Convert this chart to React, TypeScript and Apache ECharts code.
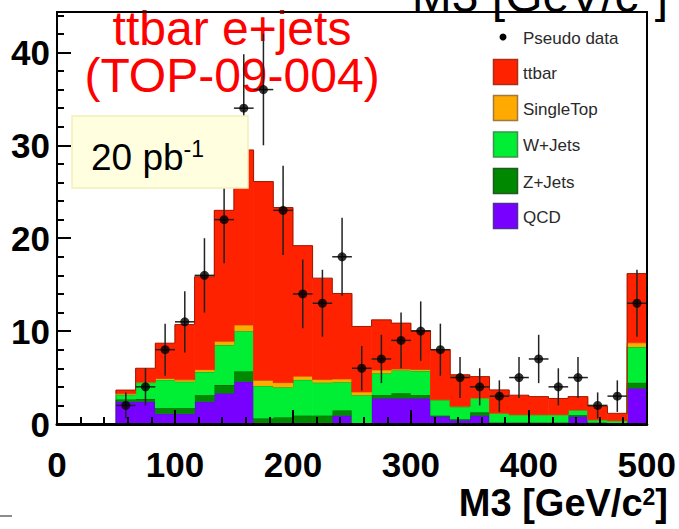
import React, { useEffect, useRef } from "react";
import * as echarts from "echarts";

// ---- data (27 filled bins of width 500/30 GeV starting at 50 GeV) ----
const X_MIN = 0;
const X_MAX = 500;
const N_BINS = 30;
const FIRST_BIN = 3;
const BIN_WIDTH = (X_MAX - X_MIN) / N_BINS;

const qcd = [2.4, 2.4, 1.1, 1.1, 2.4, 3.3, 4.55, 0, 0, 0, 0, 0.9, 0, 2.76, 2.76, 2.76, 0.8, 0.4, 0.9, 0, 0, 0, 0, 0.8, 0, 0, 3.84];
const zJets = [0.25, 0.3, 0.6, 0.6, 0.7, 0.9, 1.1, 0.6, 0.7, 0.9, 0.9, 0.55, 0.1, 0.35, 0.55, 0.35, 0.1, 0.1, 0.35, 0.15, 0.15, 0.15, 0.15, 0.15, 0.15, 0.1, 0.6];
const wJets = [0.5, 1.75, 3.05, 2.85, 2.5, 4.3, 4.35, 3.5, 3.25, 3.85, 3.55, 3.05, 3.0, 2.35, 2.45, 2.6, 1.7, 1.35, 1.5, 1.0, 0.85, 0.85, 0.85, 0.55, 0.3, 0.25, 3.85];
const singleTop = [0.1, 0.05, 0.15, 0.2, 0.25, 0.4, 0.65, 0.6, 0.5, 0.4, 0.35, 0.35, 0.35, 0.35, 0.15, 0.15, 0.0, 0.05, 0.05, 0.02, 0.0, 0.0, 0.0, 0.0, 0.0, 0.0, 0.45];
const ttbar = [0.4, 1.5, 3.8, 5.95, 10.0, 14.1, 18.85, 21.4, 18.85, 14.05, 10.9, 9.2, 7.05, 5.4, 4.95, 4.2, 5.4, 3.4, 2.3, 2.5, 2.1, 1.95, 1.75, 1.45, 1.45, 0.8, 7.45];
const pseudoData = [2, 4, 8, 11, 16, 22, 34, 36, 23, 14, 13, 18, 6, 7, 9, 10, 8, 5, 4, 3, 5, 7, 4, 5, 2, 3, 13];
const pseudoErr = [1.4, 2, 2.8, 3.3, 4, 4.7, 5.8, 6, 4.8, 3.7, 3.6, 4.2, 2.4, 2.6, 3, 3.2, 2.8, 2.2, 2, 1.7, 2.2, 2.6, 2, 2.2, 1.4, 1.7, 3.6];

const Y_MAX = 44.35;
const xMajorTicks = 100;
const xMinorTicks = 20;
const yMajorTicks = 10;
const yMinorTicks = 2;

const legendItems = [
  { name: "ttbar", color: "#ff2200", border: "#a83018" },
  { name: "SingleTop", color: "#ffaa00", border: "#a07840" },
  { name: "W+Jets", color: "#00ee33", border: "#409050" },
  { name: "Z+Jets", color: "#008800", border: "#205a20" },
  { name: "QCD", color: "#7700ff", border: "#503090" },
];

// ---- layout ----
const W = 679;
const H = 529;
const G_LEFT = 57;
const G_TOP = 12;
const G_RIGHT = 647;
const G_BOTTOM = 424;
const FONT = "Liberation Sans, Arial, Helvetica, sans-serif";

const binLow = (i: number) => X_MIN + (FIRST_BIN + i) * BIN_WIDTH;

export default function App() {
  const ref = useRef<HTMLDivElement>(null);
  useEffect(() => {
    if (!ref.current) return;
    const chart = echarts.init(ref.current, undefined, { renderer: "svg" });

    const stackDefs = [
      { name: "QCD", data: qcd, color: "#7700ff", line: "#4a1aa0" },
      { name: "Z+Jets", data: zJets, color: "#008800", line: "#005000" },
      { name: "W+Jets", data: wJets, color: "#00ee33", line: "#10a020" },
      { name: "SingleTop", data: singleTop, color: "#ffaa00", line: "#b07000" },
      { name: "ttbar", data: ttbar, color: "#ff2200", line: "#a01800" },
    ];

    // cumulative stacking: [xLow, xHigh, base, top, prevTop]
    const base = qcd.map(() => 0);
    const stackSeries = stackDefs.map((s, si) => {
      const rows = s.data.map((v, i) => {
        const b = base[i];
        const t = b + v;
        return [binLow(i), binLow(i + 1), b, t, 0];
      });
      rows.forEach((r, i) => {
        r[4] = i === 0 ? r[2] : rows[i - 1][3];
      });
      s.data.forEach((v, i) => {
        base[i] += v;
      });
      return {
        name: s.name,
        type: "custom",
        z: 2 + si * 0.01,
        data: rows,
        renderItem: (params: any, api: any) => {
          const x0 = api.value(0);
          const x1 = api.value(1);
          const b = api.value(2);
          const t = api.value(3);
          const pt = api.value(4);
          const p0 = api.coord([x0, t]);
          const p1 = api.coord([x1, b]);
          const pv = api.coord([x0, pt]);
          const children: any[] = [
            {
              type: "rect",
              shape: { x: p0[0] - 0.3, y: p0[1], width: p1[0] - p0[0] + 0.6, height: p1[1] - p0[1] },
              style: { fill: s.color },
            },
            {
              type: "line",
              shape: { x1: p0[0], y1: p0[1], x2: p1[0], y2: p0[1] },
              style: { stroke: s.line, lineWidth: 1 },
            },
            {
              type: "line",
              shape: { x1: p0[0], y1: pv[1], x2: p0[0], y2: p0[1] },
              style: { stroke: s.line, lineWidth: 1 },
            },
          ];
          if (params.dataIndex === rows.length - 1) {
            children.push({
              type: "line",
              shape: { x1: p1[0], y1: p0[1], x2: p1[0], y2: p1[1] },
              style: { stroke: s.line, lineWidth: 1 },
            });
          }
          return { type: "group", children };
        },
      };
    });

    const centers = pseudoData.map((n, i) => [binLow(i) + BIN_WIDTH / 2, n, pseudoErr[i]]);

    const legendGraphics: any[] = [];
    legendGraphics.push({
      type: "circle",
      shape: { cx: 503, cy: 37, r: 3.5 },
      style: { fill: "#000" },
      z: 100,
    });
    legendGraphics.push({
      type: "text",
      x: 523,
      y: 38,
      style: {
        text: "Pseudo data",
        fontSize: 17,
        fontFamily: FONT,
        fill: "#2a2a2a",
        align: "left",
        verticalAlign: "middle",
        textAlign: "left",
        textVerticalAlign: "middle",
      },
      z: 100,
    });
    const rowY = [72, 108, 144.5, 181, 216];
    legendItems.forEach((it, i) => {
      legendGraphics.push({
        type: "rect",
        shape: { x: 493.5, y: rowY[i] - 12.5, width: 24, height: 25 },
        style: { fill: it.color, stroke: it.border, lineWidth: 1.5 },
        z: 100,
      });
      legendGraphics.push({
        type: "text",
        x: 523,
        y: rowY[i] + 1,
        style: {
          text: it.name,
          fontSize: 17,
          fontFamily: FONT,
          fill: "#2a2a2a",
          align: "left",
          verticalAlign: "middle",
          textAlign: "left",
          textVerticalAlign: "middle",
        },
        z: 100,
      });
    });

    const option: any = {
      animation: false,
      backgroundColor: "#ffffff",
      grid: {
        left: G_LEFT,
        top: G_TOP,
        width: G_RIGHT - G_LEFT,
        height: G_BOTTOM - G_TOP,
        containLabel: false,
      },
      xAxis: [
        {
          type: "value",
          min: X_MIN,
          max: X_MAX,
          interval: xMajorTicks,
          position: "bottom",
          z: 10,
          axisLine: { show: true, onZero: false, lineStyle: { color: "#000", width: 3 } },
          axisTick: { show: true, inside: true, length: 14, lineStyle: { color: "#000", width: 2 } },
          axisLabel: {
            show: true,
            fontSize: 35,
            lineHeight: 32,
            fontWeight: "bold",
            fontFamily: FONT,
            color: "#000",
            margin: 24,
          },
          splitLine: { show: false },
        },
        {
          type: "value",
          min: X_MIN,
          max: X_MAX,
          interval: xMinorTicks,
          position: "bottom",
          z: 10,
          axisLine: { show: false, onZero: false },
          axisTick: { show: true, inside: true, length: 7, lineStyle: { color: "#000", width: 2 } },
          axisLabel: { show: false },
          splitLine: { show: false },
        },
      ],
      yAxis: [
        {
          type: "value",
          min: 0,
          max: Y_MAX,
          interval: yMajorTicks,
          position: "left",
          z: 10,
          axisLine: { show: true, onZero: false, lineStyle: { color: "#000", width: 2 } },
          axisTick: { show: true, inside: true, length: 14, lineStyle: { color: "#000", width: 2 } },
          axisLabel: {
            show: true,
            showMaxLabel: false,
            fontSize: 35,
            fontWeight: "bold",
            fontFamily: FONT,
            color: "#000",
            margin: 7,
            padding: [8, 0, 0, 0],
          },
          splitLine: { show: false },
        },
        {
          type: "value",
          min: 0,
          max: Y_MAX,
          interval: yMinorTicks,
          position: "left",
          z: 10,
          axisLine: { show: false, onZero: false },
          axisTick: { show: true, inside: true, length: 7, lineStyle: { color: "#000", width: 2 } },
          axisLabel: { show: false },
          splitLine: { show: false },
        },
      ],
      series: [
        ...stackSeries,
        {
          name: "Pseudo data errors",
          type: "custom",
          z: 5,
          data: centers,
          renderItem: (params: any, api: any) => {
            const x = api.value(0);
            const y = api.value(1);
            const e = api.value(2);
            const top = api.coord([x, y + e]);
            const bot = api.coord([x, Math.max(0, y - e)]);
            const l = api.coord([x - BIN_WIDTH / 2, y]);
            const r = api.coord([x + BIN_WIDTH / 2, y]);
            const st = { stroke: "#222", lineWidth: 1.5 };
            return {
              type: "group",
              children: [
                { type: "line", shape: { x1: top[0], y1: top[1], x2: bot[0], y2: bot[1] }, style: st },
                { type: "line", shape: { x1: l[0], y1: l[1], x2: r[0], y2: r[1] }, style: st },
              ],
            };
          },
        },
        {
          name: "Pseudo data",
          type: "scatter",
          z: 6,
          symbol: "circle",
          symbolSize: 9,
          itemStyle: { color: "#000" },
          data: centers.map((c) => [c[0], c[1]]),
        },
      ],
      graphic: [
        // frame
        {
          type: "rect",
          shape: { x: G_LEFT, y: G_TOP, width: G_RIGHT - G_LEFT, height: G_BOTTOM - G_TOP },
          style: { fill: "none", stroke: "#000", lineWidth: 2 },
          z: 50,
          silent: true,
        },
        // clipped top-right axis title
        {
          type: "text",
          x: 668,
          y: -5,
          style: {
            text: "{a|M3 [GeV/c}{s|2}{a|]}",
            align: "right",
            verticalAlign: "middle",
            textAlign: "right",
            textVerticalAlign: "middle",
            rich: {
              a: { fontSize: 48, fontFamily: FONT, fill: "#000", lineHeight: 50 },
              s: { fontSize: 29, fontFamily: FONT, fill: "#000", verticalAlign: "top", lineHeight: 30 },
            },
          },
          z: 60,
        },
        // red title (two lines)
        {
          type: "text",
          x: 232,
          y: 51.5,
          style: {
            text: "ttbar e+jets\n(TOP-09-004)",
            fontSize: 48,
            lineHeight: 47,
            fontFamily: FONT,
            fill: "#ff0000",
            align: "center",
            verticalAlign: "middle",
            textAlign: "center",
            textVerticalAlign: "middle",
          },
          z: 4,
        },
        // luminosity box
        {
          type: "rect",
          shape: { x: 72, y: 116, width: 176, height: 72 },
          style: { fill: "#ffffe0", stroke: "#f3efb8", lineWidth: 1.5 },
          z: 40,
        },
        {
          type: "text",
          x: 91,
          y: 157,
          style: {
            text: "{a|20 pb}{s|-1}",
            align: "left",
            verticalAlign: "middle",
            textAlign: "left",
            textVerticalAlign: "middle",
            rich: {
              a: { fontSize: 37, fontFamily: FONT, fill: "#000", lineHeight: 40 },
              s: { fontSize: 23, fontFamily: FONT, fill: "#000", verticalAlign: "top", lineHeight: 24 },
            },
          },
          z: 41,
        },
        // x-axis title
        {
          type: "text",
          x: 668,
          y: 503,
          style: {
            text: "{a|M3 [GeV/c}{s|2}{a|]}",
            align: "right",
            verticalAlign: "middle",
            textAlign: "right",
            textVerticalAlign: "middle",
            rich: {
              a: { fontSize: 38, fontWeight: "bold", fontFamily: FONT, fill: "#000", lineHeight: 36 },
              s: { fontSize: 23, fontWeight: "bold", fontFamily: FONT, fill: "#000", verticalAlign: "top", lineHeight: 24 },
            },
          },
          z: 60,
        },
        // small dash bottom-left
        {
          type: "line",
          shape: { x1: 0, y1: 516, x2: 12, y2: 516 },
          style: { stroke: "#666", lineWidth: 1.5 },
          z: 60,
        },
        ...legendGraphics,
      ],
    };

    chart.setOption(option);
    return () => {
      chart.dispose();
    };
  }, []);

  return (
    <div
      ref={ref}
      style={{ position: "fixed", left: 0, top: 0, width: W, height: H, background: "#fff" }}
    />
  );
}
